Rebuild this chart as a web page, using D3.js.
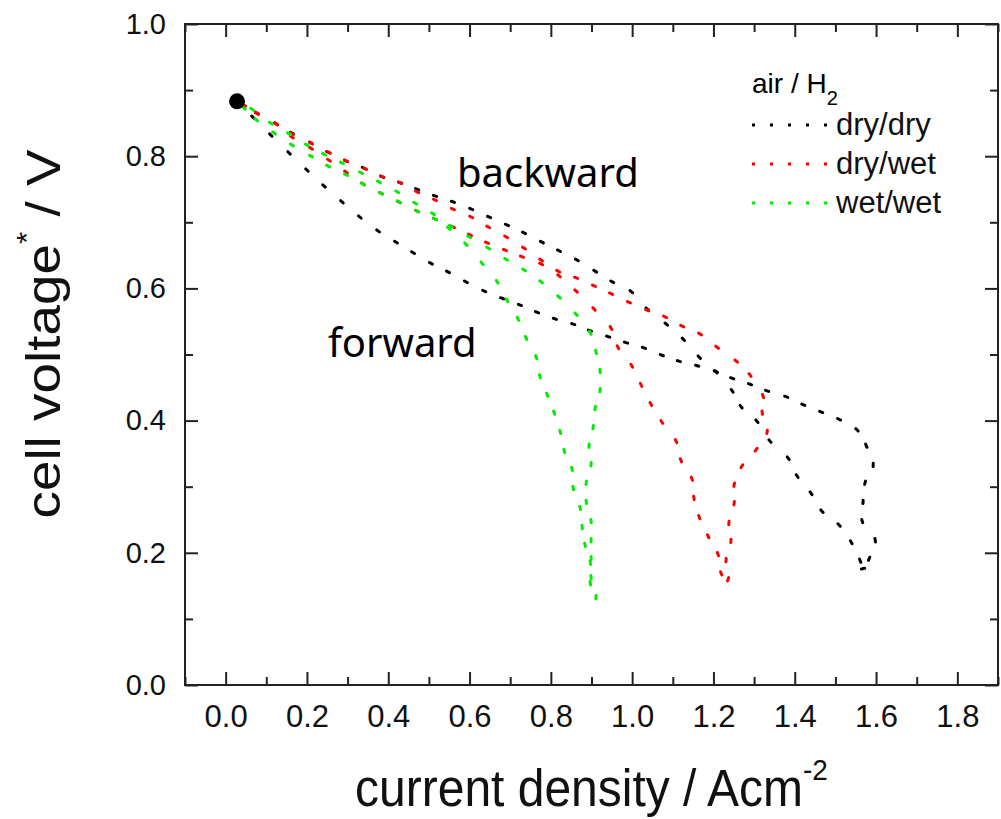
<!DOCTYPE html>
<html>
<head>
<meta charset="utf-8">
<script src="https://cdn.jsdelivr.net/npm/d3@7"></script>
<style>
body { margin: 0; background: #fff; }
</style>
</head>
<body>
<div id="chart"></div>
<script>
// axis ticks
const xMajor = [0, 0.2, 0.4, 0.6, 0.8, 1.0, 1.2, 1.4, 1.6, 1.8];
const xMinor = [-0.1, 0.1, 0.3, 0.5, 0.7, 0.9, 1.1, 1.3, 1.5, 1.7, 1.9];
const yMajor = [0, 0.2, 0.4, 0.6, 0.8, 1.0];
const yMinor = [0.1, 0.3, 0.5, 0.7, 0.9];

const seriesNames = ["dry/dry", "dry/wet", "wet/wet"];
const seriesColors = ["#000000", "#ff0000", "#00ee00"];
const startPoint = [0.028, 0.883];

// dry/dry
const dryDryForward = [
  [0.033, 0.880], [0.067, 0.859], [0.111, 0.832], [0.156, 0.805], [0.200, 0.779],
  [0.242, 0.755], [0.286, 0.731], [0.330, 0.708], [0.375, 0.687], [0.419, 0.670],
  [0.461, 0.654], [0.505, 0.638], [0.547, 0.625], [0.591, 0.610], [0.636, 0.596],
  [0.680, 0.585], [0.724, 0.575], [0.766, 0.564], [0.810, 0.554], [0.855, 0.546],
  [0.896, 0.536], [0.941, 0.527], [0.985, 0.518], [1.029, 0.510], [1.073, 0.499],
  [1.115, 0.490], [1.160, 0.483], [1.206, 0.474], [1.246, 0.464], [1.290, 0.455],
  [1.332, 0.445], [1.379, 0.436], [1.421, 0.424], [1.465, 0.413], [1.509, 0.402],
  [1.553, 0.386], [1.576, 0.362], [1.593, 0.333], [1.573, 0.306], [1.568, 0.277],
  [1.566, 0.248], [1.598, 0.219], [1.583, 0.191], [1.568, 0.176]
];
const dryDryBackward = [
  [1.561, 0.188], [1.539, 0.216], [1.509, 0.242], [1.467, 0.263], [1.440, 0.290],
  [1.406, 0.316], [1.384, 0.343], [1.339, 0.369], [1.307, 0.399], [1.268, 0.421],
  [1.246, 0.445], [1.206, 0.474], [1.165, 0.496], [1.126, 0.523], [1.084, 0.546],
  [1.037, 0.569], [0.998, 0.595], [0.951, 0.610], [0.909, 0.626], [0.864, 0.643],
  [0.820, 0.657], [0.778, 0.670], [0.734, 0.684], [0.692, 0.696], [0.648, 0.708],
  [0.604, 0.720], [0.559, 0.731], [0.515, 0.740], [0.471, 0.750], [0.429, 0.760],
  [0.385, 0.769], [0.340, 0.782], [0.296, 0.793], [0.252, 0.806], [0.210, 0.820],
  [0.163, 0.835], [0.124, 0.849], [0.077, 0.865], [0.045, 0.877]
];

// dry/wet
const dryWetForward = [
  [0.045, 0.877], [0.077, 0.865], [0.124, 0.849], [0.163, 0.829], [0.210, 0.812],
  [0.254, 0.794], [0.296, 0.776], [0.338, 0.758], [0.382, 0.744], [0.426, 0.731],
  [0.471, 0.717], [0.515, 0.705], [0.559, 0.693], [0.601, 0.681], [0.643, 0.669],
  [0.687, 0.658], [0.729, 0.648], [0.776, 0.637], [0.820, 0.619], [0.862, 0.596],
  [0.906, 0.569], [0.948, 0.540], [0.965, 0.511], [0.999, 0.483], [1.022, 0.454],
  [1.046, 0.425], [1.073, 0.398], [1.108, 0.369], [1.120, 0.340], [1.147, 0.312],
  [1.152, 0.283], [1.165, 0.254], [1.187, 0.225], [1.211, 0.198], [1.219, 0.169],
  [1.236, 0.160]
];
const dryWetBackward = [
  [1.231, 0.189], [1.243, 0.218], [1.238, 0.245], [1.251, 0.275], [1.251, 0.303],
  [1.270, 0.331], [1.305, 0.356], [1.332, 0.383], [1.320, 0.412], [1.322, 0.437],
  [1.290, 0.469], [1.256, 0.490], [1.209, 0.511], [1.167, 0.531], [1.123, 0.543],
  [1.081, 0.557], [1.037, 0.567], [0.992, 0.579], [0.948, 0.592], [0.906, 0.604],
  [0.862, 0.616], [0.818, 0.626], [0.776, 0.643], [0.734, 0.661], [0.690, 0.678],
  [0.646, 0.693], [0.604, 0.708], [0.559, 0.720], [0.515, 0.734], [0.471, 0.746],
  [0.429, 0.760], [0.385, 0.769], [0.343, 0.781], [0.296, 0.793], [0.254, 0.806],
  [0.210, 0.820], [0.163, 0.834], [0.124, 0.849], [0.077, 0.865]
];

// wet/wet
const wetWetForward = [
  [0.045, 0.873], [0.075, 0.855], [0.119, 0.835], [0.163, 0.817], [0.210, 0.800],
  [0.252, 0.785], [0.296, 0.772], [0.338, 0.758], [0.382, 0.744], [0.426, 0.731],
  [0.471, 0.717], [0.515, 0.705], [0.549, 0.691], [0.591, 0.667], [0.631, 0.638],
  [0.668, 0.610], [0.692, 0.582], [0.719, 0.554], [0.739, 0.525], [0.764, 0.496],
  [0.773, 0.467], [0.791, 0.439], [0.808, 0.412], [0.823, 0.383], [0.833, 0.354],
  [0.852, 0.327], [0.855, 0.298], [0.872, 0.268], [0.877, 0.239], [0.884, 0.212],
  [0.897, 0.185], [0.897, 0.154], [0.911, 0.133]
];
const wetWetBackward = [
  [0.899, 0.163], [0.899, 0.192], [0.899, 0.219], [0.899, 0.248], [0.887, 0.277],
  [0.887, 0.306], [0.899, 0.334], [0.894, 0.362], [0.904, 0.390], [0.909, 0.419],
  [0.921, 0.446], [0.921, 0.475], [0.911, 0.504], [0.897, 0.533], [0.862, 0.561],
  [0.820, 0.587], [0.776, 0.610], [0.734, 0.628], [0.690, 0.644], [0.646, 0.661],
  [0.599, 0.678], [0.554, 0.694], [0.510, 0.713], [0.466, 0.729], [0.422, 0.746],
  [0.377, 0.761], [0.333, 0.775], [0.286, 0.790], [0.242, 0.803], [0.200, 0.817],
  [0.156, 0.834], [0.111, 0.850], [0.065, 0.871]
];

const allSeries = [
  dryDryForward.concat(dryDryBackward),
  dryWetForward.concat(dryWetBackward),
  wetWetForward.concat(wetWetBackward)
];

const width = 1001;
const height = 819;
const margin = {top: 24, right: 3, bottom: 134, left: 185};
const innerWidth = width - margin.left - margin.right;
const innerHeight = height - margin.top - margin.bottom;

const svg = d3.select("#chart")
    .append("svg")
    .attr("width", width)
    .attr("height", height);

const g = svg.append("g")
    .attr("transform", `translate(${margin.left},${margin.top})`);

const x = d3.scaleLinear().domain([-0.1, 1.9]).range([0, innerWidth]);
const y = d3.scaleLinear().domain([0, 1]).range([innerHeight, 0]);

const fmt = d3.format(".1f");
const axisFont = "'Liberation Sans', Arial, sans-serif";

// minor ticks (no labels)
g.append("g").attr("class", "bare").attr("transform", `translate(0,${innerHeight})`)
    .call(d3.axisBottom(x).tickValues(xMinor).tickSizeInner(-8).tickSizeOuter(0));
g.append("g").attr("class", "bare")
    .call(d3.axisTop(x).tickValues(xMinor).tickSizeInner(-8).tickSizeOuter(0));
g.append("g").attr("class", "bare")
    .call(d3.axisLeft(y).tickValues(yMinor).tickSizeInner(-8).tickSizeOuter(0));
g.append("g").attr("class", "bare").attr("transform", `translate(${innerWidth},0)`)
    .call(d3.axisRight(y).tickValues(yMinor).tickSizeInner(-8).tickSizeOuter(0));

// major ticks
const xAxis = g.append("g").attr("transform", `translate(0,${innerHeight})`)
    .call(d3.axisBottom(x).tickValues(xMajor).tickSizeInner(-13).tickSizeOuter(0).tickPadding(20).tickFormat(fmt));
xAxis.selectAll("text")
    .style("font-family", axisFont)
    .style("font-size", "31px")
    .style("fill", "#111");

g.append("g").attr("class", "bare")
    .call(d3.axisTop(x).tickValues(xMajor).tickSizeInner(-13).tickSizeOuter(0));

const yAxis = g.append("g")
    .call(d3.axisLeft(y).tickValues(yMajor).tickSizeInner(-13).tickSizeOuter(0).tickPadding(19).tickFormat(fmt));
yAxis.selectAll("text")
    .style("font-family", axisFont)
    .style("font-size", "29px")
    .style("fill", "#111");

g.append("g").attr("class", "bare").attr("transform", `translate(${innerWidth},0)`)
    .call(d3.axisRight(y).tickValues(yMajor).tickSizeInner(-13).tickSizeOuter(0));

g.selectAll(".bare text").remove();
g.selectAll(".domain").remove();
g.selectAll(".tick line").attr("stroke", "#222").attr("stroke-width", 2);

g.append("rect")
    .attr("width", innerWidth)
    .attr("height", innerHeight)
    .attr("fill", "none")
    .attr("stroke", "#222")
    .attr("stroke-width", 2);

// data: short dashes at each measured point, oriented along the curve
allSeries.forEach((pts, k) => {
    const px = pts.map(d => [x(d[0]), y(d[1])]);
    const segs = px.map((p, i) => {
        const a = px[Math.max(0, i - 1)];
        const b = px[Math.min(px.length - 1, i + 1)];
        let dx = b[0] - a[0], dy = b[1] - a[1];
        const len = Math.hypot(dx, dy) || 1;
        dx = dx / len * 1.7; dy = dy / len * 1.7;
        return {x1: p[0] - dx, y1: p[1] - dy, x2: p[0] + dx, y2: p[1] + dy};
    });
    g.append("g").selectAll("line")
        .data(segs)
        .enter()
        .append("line")
        .attr("x1", d => d.x1).attr("y1", d => d.y1)
        .attr("x2", d => d.x2).attr("y2", d => d.y2)
        .attr("stroke", seriesColors[k])
        .attr("stroke-width", 3)
        .attr("stroke-linecap", "round");
});

g.append("circle")
    .attr("cx", x(startPoint[0]))
    .attr("cy", y(startPoint[1]))
    .attr("r", 8)
    .attr("fill", "#000");

// annotations
const noteFont = "'Noto Sans', 'Open Sans', sans-serif";
g.append("text")
    .attr("x", 457 - margin.left)
    .attr("y", 187 - margin.top)
    .style("font-family", noteFont)
    .style("font-size", "40px")
    .text("backward");
g.append("text")
    .attr("x", 328 - margin.left)
    .attr("y", 357 - margin.top)
    .style("font-family", noteFont)
    .style("font-size", "40px")
    .text("forward");

// legend
const legend = g.append("g")
    .attr("transform", `translate(${752 - margin.left},${93 - margin.top})`);

const legendTitle = legend.append("text")
    .attr("x", 0)
    .attr("y", 0)
    .style("font-family", axisFont)
    .style("font-size", "28px");
legendTitle.append("tspan").text("air / H");
legendTitle.append("tspan").attr("dy", 12).style("font-size", "20px").text("2");

const legendItems = legend.selectAll(".legend-item")
    .data(seriesNames)
    .enter()
    .append("g")
    .attr("class", "legend-item")
    .attr("transform", (d, i) => `translate(0,${32 + i * 39})`);

legendItems.append("line")
    .attr("x1", 0)
    .attr("x2", 76)
    .attr("stroke", (d, i) => seriesColors[i])
    .attr("stroke-width", 3)
    .attr("stroke-dasharray", "3 15");

legendItems.append("text")
    .attr("x", 84)
    .attr("y", 10)
    .style("font-family", axisFont)
    .style("font-size", "31px")
    .style("fill", "#111")
    .text(d => d);

// axis titles
const xTitle = svg.append("text")
    .attr("transform", `translate(${margin.left + innerWidth / 2},806) scale(1,1.08)`)
    .attr("text-anchor", "middle")
    .style("font-family", axisFont)
    .style("font-size", "48px")
    .style("fill", "#111");
xTitle.append("tspan").text("current density / Acm");
xTitle.append("tspan").attr("dy", -24).style("font-size", "28px").text("-2");

const yTitle = svg.append("text")
    .attr("transform", "translate(60,334) rotate(-90) scale(1.12,1)")
    .attr("text-anchor", "middle")
    .style("font-family", axisFont)
    .style("font-size", "49px")
    .style("fill", "#111");
yTitle.append("tspan").text("cell voltage");
yTitle.append("tspan").attr("dy", -24).style("font-size", "28px").text("*");
yTitle.append("tspan").attr("dy", 24).text(" / V");
</script>
</body>
</html>
